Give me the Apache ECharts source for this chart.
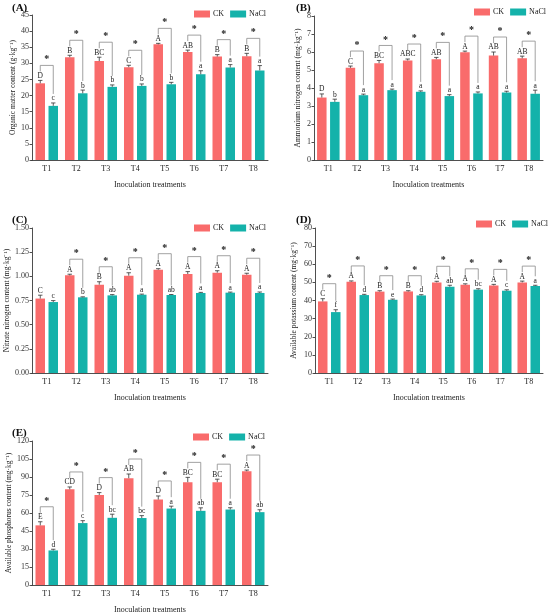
<!DOCTYPE html>
<html lang="en">
<head>
<meta charset="UTF-8">
<title>Soil nutrients</title>
<script src="https://cdnjs.cloudflare.com/ajax/libs/echarts/6.0.0/echarts.min.js"></script>
<style>
    body { margin: 0; background: #fff; }
    #main { width: 550px; height: 615px; }
</style>
</head>
<body>
<div id="main"></div>
<script>
const categories = ['T1', 'T2', 'T3', 'T4', 'T5', 'T6', 'T7', 'T8'];

// (A) organic matter
const omCK = [23.8, 31.9, 30.7, 28.8, 35.9, 33.5, 32.1, 32.2];
const omCKErr = [0.9, 0.6, 1.2, 0.6, 0.3, 0.6, 0.6, 0.9];
const omNaCl = [16.8, 20.7, 22.7, 23.0, 23.5, 26.6, 28.7, 27.8];
const omNaClErr = [0.9, 1.0, 0.6, 0.6, 0.6, 1.1, 0.9, 1.5];
const omCKLetters = ['D', 'B', 'BC', 'C', 'A', 'AB', 'B', 'B'];
const omNaClLetters = ['c', 'b', 'b', 'b', 'b', 'a', 'a', 'a'];
const omSig = [1, 1, 1, 1, 1, 1, 1, 1];

// (B) ammonium nitrogen
const anCK = [3.47, 5.12, 5.38, 5.53, 5.60, 5.99, 5.80, 5.65];
const anCKErr = [0.2, 0.1, 0.15, 0.08, 0.1, 0.06, 0.2, 0.12];
const anNaCl = [3.23, 3.60, 3.88, 3.79, 3.55, 3.70, 3.75, 3.68];
const anNaClErr = [0.15, 0.06, 0.06, 0.05, 0.08, 0.08, 0.07, 0.2];
const anCKLetters = ['D', 'C', 'BC', 'ABC', 'AB', 'A', 'AB', 'AB'];
const anNaClLetters = ['b', 'a', 'a', 'a', 'a', 'a', 'a', 'a'];
const anSig = [0, 1, 1, 1, 1, 1, 1, 1];

// (C) nitrate nitrogen
const nnCK = [0.770, 1.010, 0.914, 1.007, 1.069, 1.024, 1.038, 1.017];
const nnCKErr = [0.035, 0.012, 0.03, 0.03, 0.01, 0.025, 0.02, 0.015];
const nnNaCl = [0.734, 0.783, 0.803, 0.810, 0.807, 0.828, 0.831, 0.828];
const nnNaClErr = [0.015, 0.005, 0.008, 0.006, 0.005, 0.006, 0.006, 0.01];
const nnCKLetters = ['C', 'A', 'B', 'A', 'A', 'A', 'A', 'A'];
const nnNaClLetters = ['c', 'b', 'ab', 'a', 'ab', 'a', 'a', 'a'];
const nnSig = [0, 1, 1, 1, 1, 1, 1, 1];

// (D) available potassium
const akCK = [39.5, 50.4, 44.9, 45.0, 50.0, 48.7, 48.3, 50.0];
const akCKErr = [1.5, 0.4, 0.5, 0.4, 0.6, 0.5, 0.6, 0.7];
const akNaCl = [33.6, 43.0, 40.4, 42.8, 47.6, 46.0, 45.4, 48.0];
const akNaClErr = [1.3, 0.4, 0.4, 0.4, 0.8, 0.5, 0.5, 0.4];
const akCKLetters = ['C', 'A', 'B', 'B', 'A', 'A', 'A', 'A'];
const akNaClLetters = ['f', 'd', 'e', 'd', 'ab', 'bc', 'c', 'a'];
const akSig = [1, 1, 1, 1, 1, 1, 1, 1];

// (E) available phosphorus
const apCK = [49.7, 79.7, 75.0, 89.0, 71.2, 85.7, 85.7, 94.8];
const apCKErr = [3.0, 2.0, 2.0, 3.5, 3.0, 4.0, 2.5, 1.0];
const apNaCl = [28.8, 51.6, 56.0, 55.8, 63.7, 61.8, 62.9, 60.7];
const apNaClErr = [1.0, 2.0, 3.0, 2.0, 2.0, 2.5, 1.5, 2.0];
const apCKLetters = ['E', 'CD', 'D', 'AB', 'D', 'BC', 'BC', 'A'];
const apNaClLetters = ['d', 'c', 'bc', 'bc', 'a', 'ab', 'a', 'ab'];
const apSig = [1, 1, 1, 1, 1, 1, 1, 1];

const FONT = '"Liberation Serif", "Times New Roman", serif';
const CK_COLOR = '#F96B6B';
const NACL_COLOR = '#14B2AA';
const BAR_W = 9.5;
const BAR_OFF = 6.5;

const panels = [
    { tag: '(A)', yName: 'Organic matter content (g·kg⁻¹)', ck: omCK, ckErr: omCKErr, na: omNaCl, naErr: omNaClErr,
      ckLet: omCKLetters, naLet: omNaClLetters, sig: omSig, max: 45, interval: 5, dec: 0,
      grid: { left: 32, top: 15, width: 236, height: 145 }, legend: { left: 194, top: 10 }, title: { left: 12, top: 3 }, nameGap: 15 },
    { tag: '(B)', yName: 'Ammonium nitrogen content (mg·kg⁻¹)', ck: anCK, ckErr: anCKErr, na: anNaCl, naErr: anNaClErr,
      ckLet: anCKLetters, naLet: anNaClLetters, sig: anSig, max: 8, interval: 1, dec: 0,
      grid: { left: 314, top: 16, width: 229, height: 144 }, legend: { left: 474, top: 8 }, title: { left: 296, top: 3 }, nameGap: 12 },
    { tag: '(C)', yName: 'Nitrate nitrogen content (mg·kg⁻¹)', ck: nnCK, ckErr: nnCKErr, na: nnNaCl, naErr: nnNaClErr,
      ckLet: nnCKLetters, naLet: nnNaClLetters, sig: nnSig, max: 1.5, interval: 0.25, dec: 2,
      grid: { left: 32, top: 228, width: 236, height: 145 }, legend: { left: 194, top: 224 }, title: { left: 12, top: 215 }, nameGap: 20 },
    { tag: '(D)', yName: 'Available potassium content (mg·kg⁻¹)', ck: akCK, ckErr: akCKErr, na: akNaCl, naErr: akNaClErr,
      ckLet: akCKLetters, naLet: akNaClLetters, sig: akSig, max: 80, interval: 10, dec: 0,
      grid: { left: 315, top: 228, width: 228, height: 145 }, legend: { left: 476, top: 220 }, title: { left: 296, top: 215 }, nameGap: 17 },
    { tag: '(E)', yName: 'Available phosphorus content (mg·kg⁻¹)', ck: apCK, ckErr: apCKErr, na: apNaCl, naErr: apNaClErr,
      ckLet: apCKLetters, naLet: apNaClLetters, sig: apSig, max: 120, interval: 15, dec: 0,
      grid: { left: 32, top: 441, width: 236, height: 146 }, legend: { left: 193, top: 433 }, title: { left: 12, top: 428 }, nameGap: 18 }
];

// error bars, letters and significance brackets
function makeRender(p) {
    return function (params, api) {
        const i = api.value(0);
        const cx = api.coord([i, 0])[0];
        const xs = [cx - BAR_OFF, cx + BAR_OFF];
        const vals = [p.ck[i], p.na[i]];
        const errs = [p.ckErr[i], p.naErr[i]];
        const lets = [p.ckLet[i], p.naLet[i]];
        const children = [];
        const tops = [];
        for (let k = 0; k < 2; k++) {
            const y0 = api.coord([i, vals[k]])[1];
            const y1 = api.coord([i, vals[k] + errs[k]])[1];
            tops.push(y1);
            children.push({ type: 'line', shape: { x1: xs[k], y1: y0, x2: xs[k], y2: y1 }, style: { stroke: '#333', lineWidth: 0.8 } });
            children.push({ type: 'line', shape: { x1: xs[k] - 2.2, y1: y1, x2: xs[k] + 2.2, y2: y1 }, style: { stroke: '#333', lineWidth: 0.8 } });
            children.push({ type: 'text', x: xs[k], y: y1 - 0.5,
                style: { text: lets[k], fill: '#222', font: '7.5px ' + FONT, align: 'center', verticalAlign: 'bottom' } });
        }
        if (p.sig[i]) {
            const top = Math.min(tops[0], tops[1]) - 15;
            children.push({ type: 'polyline',
                shape: { points: [[xs[0], tops[0] - 9], [xs[0], top], [xs[1], top], [xs[1], tops[1] - 9]] },
                style: { stroke: '#8a8a8a', lineWidth: 0.8, fill: null } });
            children.push({ type: 'text', x: (xs[0] + xs[1]) / 2, y: top - 0.5,
                style: { text: '*', fill: '#222', font: 'bold 10px ' + FONT, align: 'center', verticalAlign: 'bottom' } });
        }
        return { type: 'group', children: children };
    };
}

const option = {
    animation: false,
    backgroundColor: '#fff',
    title: panels.map(p => ({
        text: p.tag, left: p.title.left, top: p.title.top, padding: 0,
        textStyle: { fontFamily: FONT, fontSize: 11, fontWeight: 'bold', color: '#111' }
    })),
    legend: panels.map(p => ({
        data: ['CK', 'NaCl'], left: p.legend.left, top: p.legend.top, padding: 0,
        icon: 'rect', itemWidth: 16, itemHeight: 7, itemGap: 6,
        textStyle: { fontFamily: FONT, fontSize: 8, color: '#222', padding: [0, 0, 0, -2] }
    })),
    grid: panels.map(p => Object.assign({ containLabel: false }, p.grid)),
    xAxis: panels.map((p, idx) => ({
        type: 'category', gridIndex: idx, data: categories,
        name: 'Inoculation treatments', nameLocation: 'middle', nameGap: 21,
        nameTextStyle: { fontFamily: FONT, fontSize: 8, color: '#222' },
        axisLine: { lineStyle: { color: '#222', width: 0.8 } },
        axisTick: { show: false },
        axisLabel: { fontFamily: FONT, fontSize: 8, color: '#222', margin: 5 }
    })),
    yAxis: panels.map((p, idx) => ({
        type: 'value', gridIndex: idx, min: 0, max: p.max, interval: p.interval,
        name: p.yName, nameLocation: 'middle', nameGap: p.nameGap,
        nameTextStyle: { fontFamily: FONT, fontSize: 7.5, color: '#222' },
        axisLine: { show: true, lineStyle: { color: '#222', width: 0.8 } },
        axisTick: { show: true, length: 2.5, lineStyle: { color: '#222', width: 0.8 } },
        axisLabel: { fontFamily: FONT, fontSize: 8, color: '#333', margin: 3,
            formatter: v => v.toFixed(p.dec) },
        splitLine: { show: false }
    })),
    series: []
};

panels.forEach((p, idx) => {
    option.series.push({
        name: 'CK', type: 'bar', xAxisIndex: idx, yAxisIndex: idx, data: p.ck,
        barWidth: BAR_W, barGap: '37%', itemStyle: { color: CK_COLOR }
    });
    option.series.push({
        name: 'NaCl', type: 'bar', xAxisIndex: idx, yAxisIndex: idx, data: p.na,
        barWidth: BAR_W, barGap: '37%', itemStyle: { color: NACL_COLOR }
    });
    option.series.push({
        type: 'custom', xAxisIndex: idx, yAxisIndex: idx, clip: false, z: 5,
        data: categories.map((c, i) => [i, 0]),
        encode: { x: 0, y: 1 },
        renderItem: makeRender(p)
    });
});

const chart = echarts.init(document.getElementById('main'));
chart.setOption(option);
</script>
</body>
</html>
